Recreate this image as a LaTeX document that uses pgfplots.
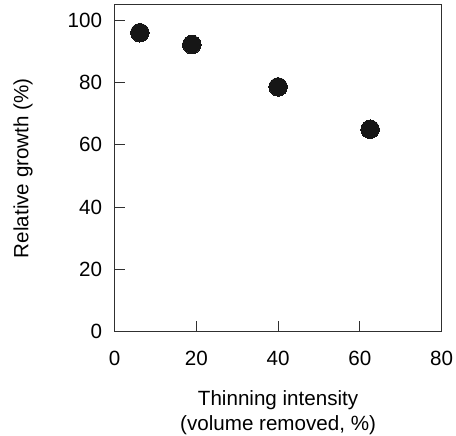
\documentclass[border=0pt]{standalone}
\usepackage{pgfplots}
\pgfplotsset{compat=1.18}
\usepackage{fontspec}
\setmainfont{Liberation Sans}

\definecolor{dotcol}{HTML}{161616}
\definecolor{axcol}{HTML}{303030}

\begin{document}
\begin{tikzpicture}
\useasboundingbox (-114.5bp,-104.3bp) rectangle (341.5bp,331.7bp);
\begin{axis}[
  scale only axis,
  width=327.2bp, height=327bp,
  xmin=0, xmax=80, ymin=0, ymax=105,
  xtick={0,20,40,60,80}, ytick={0,20,40,60,80,100},
  tick pos=left,
  tick align=inside,
  major tick length=10.5bp,
  axis line style={axcol, line width=1.1bp},
  every tick/.style={axcol, line width=1.1bp},
  font=\fontsize{20.6bp}{25bp}\selectfont,
  /pgf/number format/assume math mode=true,
  xticklabel style={yshift=-16bp},
  yticklabel style={xshift=-9bp},
  clip=false,
]
\addplot[only marks, mark=*, mark size=9.3bp,
  mark options={fill=dotcol, draw=dotcol, line width=0pt}]
  coordinates {(6.2,96.0) (18.9,92.2) (40.0,78.6) (62.5,65.0)};

% axis titles
\node[anchor=base, font=\fontsize{20.6bp}{25bp}\selectfont]
  at ([yshift=-73.3bp]rel axis cs:0.5,0) {Thinning intensity};
\node[anchor=base, font=\fontsize{20.6bp}{25bp}\selectfont]
  at ([yshift=-99bp]rel axis cs:0.5,0) {(volume removed, \%)};
\node[anchor=base, rotate=90, font=\fontsize{20.6bp}{25bp}\selectfont]
  at ([xshift=-86bp]rel axis cs:0,0.5) {Relative growth (\%)};
\end{axis}
\end{tikzpicture}
\end{document}
